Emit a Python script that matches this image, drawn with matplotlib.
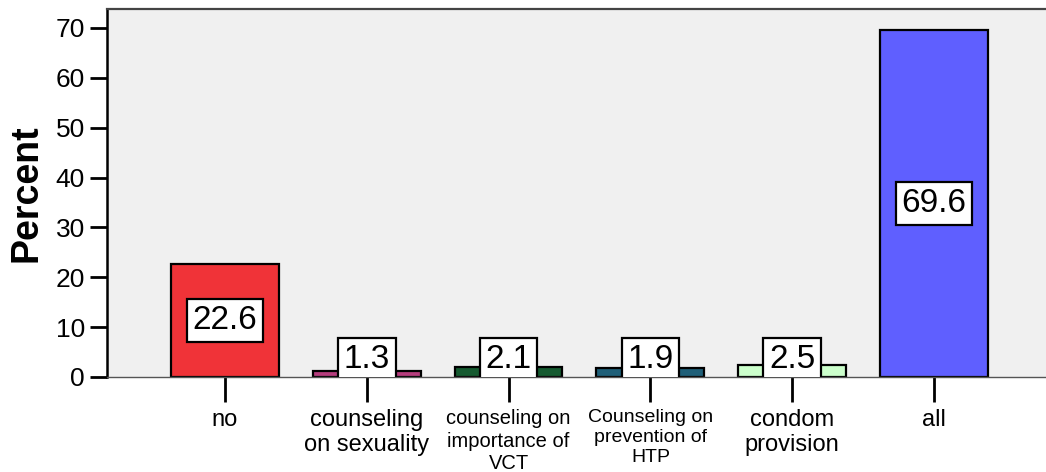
import matplotlib
matplotlib.use("Agg")
import matplotlib.pyplot as plt

# Category labels, percentages and bar colours
categories = [
    "no",
    "counseling\non sexuality",
    "counseling on\nimportance of\nVCT",
    "Counseling on\nprevention of\nHTP",
    "condom\nprovision",
    "all",
]
percent = [22.6, 1.3, 2.1, 1.9, 2.5, 69.6]
bar_colors = ["#F03338", "#B53D7D", "#155A30", "#1F5F78", "#CCFFCC", "#5F5FFF"]
label_sizes = [17, 17, 14.5, 14, 17, 17]
label_spacing = [1.2, 1.2, 1.25, 1.25, 1.2, 1.2]
y_ticks = [0, 10, 20, 30, 40, 50, 60, 70]

families = ["Liberation Sans Narrow", "Liberation Sans", "DejaVu Sans"]
plt.rcParams["font.family"] = families

fig = plt.figure(figsize=(10.46, 4.72), dpi=100)
ax = fig.add_axes([107 / 1046, 1 - 377 / 472, (1046 - 107) / 1046, 368 / 472])
ax.set_facecolor("#F0F0F0")

x = list(range(len(categories)))
ax.bar(x, percent, width=0.76, color=bar_colors, edgecolor="black",
       linewidth=1.6, zorder=2)

# Value boxes: centred in the bar; for very short bars the box sits on the
# baseline and is clipped by the plot area
for xi, v in zip(x, percent):
    ypos = v / 2 if v / 2 > 4 else 3.6
    ax.text(xi, ypos, f"{v:.1f}", ha="center", va="center", fontsize=24,
            zorder=3, clip_on=True,
            bbox=dict(boxstyle="square,pad=0.17", facecolor="white",
                      edgecolor="black", linewidth=1.6))

ax.set_xlim(-0.832, 5.79)
ax.set_ylim(0, 73.8)
ax.set_yticks(y_ticks)
ax.set_yticklabels([str(t) for t in y_ticks], fontsize=19)
ax.set_xticks(x)
ax.set_xticklabels(categories)
for lab, fs, ls in zip(ax.get_xticklabels(), label_sizes, label_spacing):
    lab.set_fontsize(fs)
    lab.set_linespacing(ls)
    lab.set_verticalalignment("top")

ax.tick_params(axis="y", direction="out", length=12, width=2, pad=4,
               color="black")
ax.tick_params(axis="x", direction="out", length=18, width=2, pad=5,
               color="black")

ax.spines["left"].set_linewidth(1.8)
ax.spines["left"].set_color("black")
ax.spines["top"].set_linewidth(1.6)
ax.spines["top"].set_color("#444444")
ax.spines["bottom"].set_linewidth(1.0)
ax.spines["bottom"].set_color("#555555")
ax.spines["right"].set_visible(False)

ax.set_ylabel("Percent", fontsize=27, fontweight="bold", labelpad=8,
              family=["Liberation Sans", "DejaVu Sans"])

fig.savefig("out.png", dpi=100, facecolor="white")
